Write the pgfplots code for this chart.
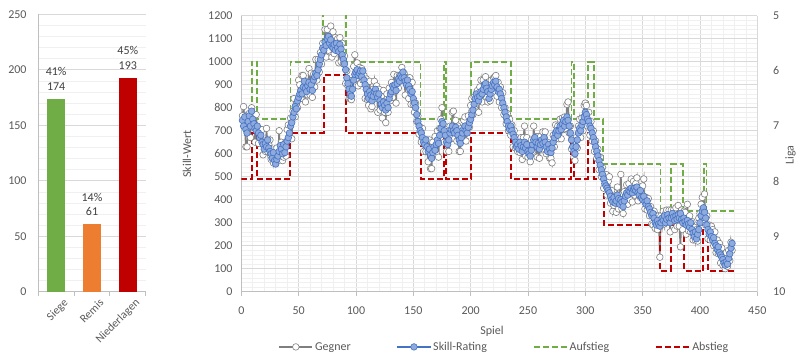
\documentclass[border=0pt]{standalone}
\usepackage{pgfplots}
\pgfplotsset{compat=1.18}
\usepackage{pgfplotstable}
\usepackage{fontspec}
\setmainfont{Carlito}
\definecolor{tickgray}{HTML}{595959}
\definecolor{labgray}{HTML}{404040}
\definecolor{gridmaj}{HTML}{D9D9D9}
\definecolor{gridmin}{HTML}{F0F0F0}
\definecolor{axgray}{HTML}{BFBFBF}
\definecolor{xlgreen}{HTML}{70AD47}
\definecolor{xlorange}{HTML}{ED7D31}
\definecolor{xlred}{HTML}{C00000}
\definecolor{xlblue}{HTML}{4472C4}
\definecolor{xllblue}{HTML}{8FAADC}
\definecolor{xlgray}{HTML}{7F7F7F}

\pgfplotstableread[row sep=\\, col sep=&]{
s & g\\
745 & 765\\ 720 & 805\\ 760 & 720\\ 705 & 630\\ 690 & 630\\ 740 & 770\\ 765 & 775\\ 720 & 670\\ 785 & 800\\ 750 & 730\\
730 & 760\\ 710 & 650\\ 700 & 770\\ 720 & 700\\ 690 & 645\\ 670 & 705\\ 680 & 670\\ 650 & 705\\ 640 & 595\\ 620 & 645\\
645 & 610\\ 630 & 710\\ 660 & 610\\ 625 & 640\\ 610 & 660\\ 600 & 575\\ 580 & 620\\ 605 & 560\\ 570 & 590\\ 555 & 575\\
575 & 625\\ 590 & 570\\ 610 & 700\\ 635 & 595\\ 620 & 650\\ 600 & 570\\ 640 & 585\\ 605 & 645\\ 630 & 590\\ 655 & 705\\
670 & 725\\ 690 & 675\\ 720 & 755\\ 735 & 665\\ 760 & 785\\ 780 & 840\\ 805 & 760\\ 795 & 815\\ 830 & 800\\ 845 & 920\\
860 & 900\\ 875 & 840\\ 860 & 940\\ 890 & 940\\ 915 & 895\\ 885 & 825\\ 870 & 915\\ 895 & 855\\ 910 & 970\\ 880 & 855\\
900 & 950\\ 875 & 845\\ 920 & 945\\ 935 & 890\\ 950 & 1010\\ 940 & 920\\ 965 & 1010\\ 990 & 955\\ 1010 & 1040\\ 1030 & 990\\
1060 & 1080\\ 1050 & 1025\\ 1085 & 1140\\ 1070 & 1020\\ 1100 & 1140\\ 1110 & 1050\\ 1080 & 1115\\ 1095 & 1155\\ 1065 & 1020\\ 1060 & 1130\\
1075 & 1035\\ 1050 & 1105\\ 1080 & 1050\\ 1060 & 1100\\ 1045 & 995\\ 1075 & 1105\\ 1055 & 1000\\ 1030 & 1080\\ 1010 & 990\\ 990 & 1025\\
965 & 905\\ 930 & 960\\ 905 & 895\\ 880 & 840\\ 860 & 840\\ 850 & 835\\ 880 & 920\\ 920 & 980\\ 945 & 1030\\ 955 & 925\\
965 & 995\\ 940 & 895\\ 950 & 975\\ 960 & 905\\ 935 & 970\\ 960 & 920\\ 920 & 940\\ 900 & 840\\ 880 & 925\\ 860 & 835\\
840 & 810\\ 870 & 915\\ 855 & 795\\ 830 & 805\\ 850 & 880\\ 870 & 915\\ 880 & 840\\ 860 & 895\\ 845 & 780\\ 860 & 880\\
830 & 790\\ 815 & 850\\ 800 & 755\\ 825 & 875\\ 810 & 780\\ 790 & 735\\ 820 & 860\\ 800 & 780\\ 840 & 885\\ 860 & 830\\
870 & 910\\ 895 & 845\\ 885 & 945\\ 900 & 870\\ 875 & 820\\ 905 & 940\\ 925 & 885\\ 915 & 940\\ 940 & 920\\ 930 & 975\\
955 & 925\\ 930 & 950\\ 915 & 855\\ 900 & 930\\ 920 & 930\\ 895 & 840\\ 880 & 930\\ 860 & 815\\ 870 & 910\\ 840 & 815\\
820 & 780\\ 800 & 820\\ 770 & 740\\ 740 & 765\\ 720 & 685\\ 700 & 715\\ 690 & 650\\ 670 & 710\\ 650 & 610\\ 640 & 650\\
660 & 610\\ 630 & 660\\ 610 & 565\\ 620 & 660\\ 595 & 535\\ 580 & 535\\ 605 & 650\\ 630 & 600\\ 615 & 675\\ 640 & 600\\
660 & 700\\ 645 & 585\\ 680 & 710\\ 710 & 750\\ 740 & 800\\ 730 & 700\\ 700 & 650\\ 680 & 705\\ 650 & 610\\ 640 & 680\\
660 & 610\\ 690 & 720\\ 705 & 665\\ 720 & 780\\ 700 & 785\\ 690 & 665\\ 715 & 745\\ 700 & 655\\ 680 & 720\\ 660 & 610\\
645 & 610\\ 670 & 710\\ 690 & 660\\ 710 & 745\\ 720 & 760\\ 700 & 655\\ 690 & 720\\ 715 & 765\\ 735 & 715\\ 750 & 810\\
770 & 840\\ 790 & 770\\ 815 & 845\\ 840 & 810\\ 860 & 820\\ 845 & 875\\ 830 & 780\\ 850 & 890\\ 870 & 920\\ 860 & 825\\
880 & 920\\ 900 & 880\\ 905 & 935\\ 885 & 845\\ 870 & 825\\ 840 & 870\\ 860 & 830\\ 880 & 920\\ 895 & 865\\ 910 & 930\\
900 & 935\\ 915 & 940\\ 890 & 850\\ 870 & 910\\ 880 & 825\\ 860 & 890\\ 840 & 800\\ 820 & 865\\ 800 & 770\\ 780 & 800\\
760 & 730\\ 740 & 775\\ 720 & 700\\ 705 & 750\\ 720 & 680\\ 700 & 725\\ 685 & 630\\ 670 & 700\\ 650 & 625\\ 630 & 670\\
640 & 610\\ 620 & 660\\ 650 & 605\\ 635 & 670\\ 610 & 575\\ 630 & 670\\ 650 & 720\\ 625 & 590\\ 640 & 670\\ 610 & 585\\
600 & 640\\ 590 & 565\\ 615 & 660\\ 640 & 610\\ 660 & 720\\ 670 & 635\\ 650 & 675\\ 630 & 585\\ 645 & 675\\ 620 & 580\\
640 & 675\\ 660 & 620\\ 645 & 695\\ 670 & 645\\ 650 & 695\\ 630 & 600\\ 610 & 650\\ 640 & 610\\ 620 & 580\\ 605 & 580\\
625 & 560\\ 650 & 680\\ 670 & 630\\ 690 & 725\\ 700 & 670\\ 680 & 720\\ 700 & 665\\ 720 & 750\\ 705 & 665\\ 730 & 755\\
745 & 705\\ 720 & 760\\ 740 & 710\\ 760 & 815\\ 745 & 825\\ 720 & 690\\ 690 & 720\\ 660 & 620\\ 630 & 665\\ 610 & 585\\
600 & 570\\ 630 & 670\\ 660 & 625\\ 690 & 720\\ 710 & 750\\ 700 & 670\\ 725 & 755\\ 740 & 700\\ 760 & 810\\ 780 & 820\\
770 & 810\\ 750 & 720\\ 740 & 780\\ 720 & 680\\ 710 & 740\\ 690 & 655\\ 670 & 700\\ 650 & 610\\ 630 & 655\\ 610 & 580\\
590 & 620\\ 570 & 530\\ 550 & 585\\ 530 & 500\\ 510 & 540\\ 490 & 450\\ 470 & 505\\ 460 & 510\\ 450 & 420\\ 440 & 480\\
430 & 500\\ 415 & 385\\ 400 & 440\\ 390 & 350\\ 410 & 375\\ 385 & 415\\ 395 & 345\\ 420 & 455\\ 405 & 360\\ 380 & 420\\
400 & 510\\ 390 & 360\\ 370 & 340\\ 395 & 435\\ 415 & 385\\ 430 & 465\\ 420 & 380\\ 440 & 470\\ 435 & 400\\ 450 & 490\\
430 & 390\\ 445 & 480\\ 450 & 420\\ 440 & 470\\ 455 & 495\\ 430 & 395\\ 420 & 450\\ 440 & 410\\ 410 & 445\\ 400 & 460\\
415 & 490\\ 390 & 360\\ 380 & 410\\ 395 & 355\\ 370 & 405\\ 360 & 330\\ 345 & 370\\ 330 & 295\\ 340 & 290\\ 320 & 350\\
300 & 275\\ 290 & 330\\ 310 & 270\\ 295 & 330\\ 285 & 150\\ 300 & 330\\ 320 & 290\\ 310 & 350\\ 330 & 295\\ 300 & 340\\
315 & 355\\ 335 & 305\\ 320 & 355\\ 300 & 260\\ 320 & 355\\ 340 & 305\\ 325 & 355\\ 310 & 270\\ 330 & 365\\ 315 & 285\\
335 & 375\\ 320 & 285\\ 340 & 195\\ 315 & 355\\ 300 & 270\\ 320 & 350\\ 305 & 345\\ 290 & 250\\ 310 & 380\\ 295 & 265\\
280 & 330\\ 300 & 260\\ 270 & 305\\ 255 & 225\\ 240 & 280\\ 260 & 225\\ 230 & 270\\ 250 & 220\\ 270 & 320\\ 300 & 340\\
330 & 380\\ 350 & 410\\ 365 & 325\\ 345 & 425\\ 320 & 290\\ 290 & 330\\ 270 & 230\\ 250 & 290\\ 260 & 225\\ 240 & 285\\
225 & 270\\ 235 & 200\\ 210 & 260\\ 200 & 170\\ 185 & 225\\ 195 & 165\\ 170 & 210\\ 160 & 125\\ 150 & 190\\ 140 & 115\\
125 & 160\\ 115 & 100\\ 130 & 170\\ 120 & 110\\ 145 & 180\\ 165 & 135\\ 190 & 215\\ 210 & 180\\
}\games

\begin{document}
\begin{tikzpicture}[x=1pt,y=1pt]
\useasboundingbox (0,0) rectangle (800,360);
\pgfplotsset{
  every axis/.append style={font=\fontsize{12pt}{14.5pt}\selectfont},
  /pgf/number format/assume math mode=true,
  /pgf/number format/1000 sep={},
}
% ---------- left bar chart ----------
\begin{axis}[
  at={(38.3pt,68.3pt)}, anchor=south west,
  scale only axis, width=107.4pt, height=277.4pt,
  xmin=-0.5, xmax=2.5, ymin=0, ymax=250,
  ytick={0,50,...,250}, minor y tick num=4,
  ymajorgrids, yminorgrids,
  major grid style={gridmaj, line width=0.7pt},
  minor grid style={gridmin, line width=0.6pt},
  axis x line*=bottom, axis y line*=left,
  axis line style={axgray, line width=0.8pt},
  ytick style={draw=none},
  yticklabel style={text=tickgray, anchor=east, inner sep=0pt, xshift=-11.6pt},
  xtick={0,1,2}, xticklabels={Siege,Remis,Niederlagen},
  minor xtick={-0.5,0.5,1.5,2.5},
  xtick style={axgray, line width=0.8pt}, tick align=outside,
  major tick length=0pt, minor tick length=4pt,
  xticklabel style={text=tickgray, font=\fontsize{11.5pt}{13pt}\selectfont, rotate=45, anchor=north east, inner sep=0pt, yshift=-9pt, xshift=0.5pt},
  nodes near coords,
  point meta=explicit symbolic,
  nodes near coords style={align=center, text=labgray, inner sep=0pt, yshift=8pt},
]
\addplot[ybar, bar width=17.7pt, bar shift=0pt, fill=xlgreen, draw=none] coordinates {(0,174) [41\%\\174]};
\addplot[ybar, bar width=17.7pt, bar shift=0pt, fill=xlorange, draw=none] coordinates {(1,61) [14\%\\61]};
\addplot[ybar, bar width=17.7pt, bar shift=0pt, fill=xlred, draw=none] coordinates {(2,193) [45\%\\193]};
\end{axis}

% ---------- right line chart ----------
\begin{axis}[
  at={(241.3pt,68.3pt)}, anchor=south west,
  scale only axis, width=516pt, height=276pt,
  xmin=0, xmax=450, ymin=0, ymax=1200,
  xtick={0,50,...,450}, ytick={0,100,...,1200},
  minor x tick num=4, minor y tick num=4,
  grid=both,
  major grid style={gridmaj, line width=0.7pt},
  minor grid style={gridmin, line width=0.6pt},
  axis x line*=bottom, axis y line*=left,
  axis line style={axgray, line width=0.8pt},
  ytick style={draw=none},
  xtick style={axgray, line width=0.8pt}, tick align=outside, major tick length=4pt, minor tick length=0pt,
  yticklabel style={text=tickgray, anchor=east, inner sep=0pt, xshift=-4.6pt},
  xticklabel style={text=tickgray, anchor=north, inner sep=0pt, yshift=-11pt},
  xlabel={Spiel}, ylabel={Skill-Wert},
  every axis x label/.style={at={(axis description cs:0.486,-0.1424)}, anchor=center, text=tickgray},
  every axis y label/.style={at={(axis description cs:-0.1052,0.499)}, rotate=90, anchor=center, text=tickgray},
  legend columns=4,
  legend style={at={(axis description cs:0.51,-0.2)}, anchor=center, draw=none, fill=none,
     text=tickgray, font=\fontsize{12pt}{14.5pt}\selectfont,
     /tikz/every even column/.append style={column sep=44pt}},
  legend image code/.code={\draw[mark repeat=2,mark phase=2,#1] plot coordinates {(0pt,0pt) (16.5pt,0pt) (33pt,0pt)};},
]
\addplot[xlgray, line width=1.5pt, mark=*, mark size=3.3pt,
   mark options={solid, fill=white, draw=xlgray, line width=0.6pt}]
   table[x expr=\coordindex+1, y=g]{\games};
\addlegendentry{Gegner}
\addplot[xlblue, line width=1.5pt, mark=*, mark size=3.3pt,
   mark options={solid, fill=xllblue, draw=xlblue, line width=0.6pt}]
   table[x expr=\coordindex+1, y=s]{\games};
\addlegendentry{Skill-Rating}
\addplot[xlgreen, line width=1.7pt, dash pattern=on 6pt off 3pt] coordinates {
(0,752) (9.3,752) (9.3,1000) (13.7,1000) (13.7,752) (42.8,752) (42.8,1000) (71.2,1000) (71.2,1250) (91.6,1250) (91.6,1000)
(156.4,1000) (156.4,752) (176.8,752) (176.8,1000) (178.8,1000) (178.8,752) (200.6,752) (200.6,1000) (235.2,1000) (235.2,752)
(287.9,752) (287.9,1000) (290,1000) (290,752) (302.4,752) (302.4,1000) (307.3,1000) (307.3,752) (315.3,752) (315.3,554)
(365.5,554) (365.5,351) (375,351) (375,554) (385.2,554) (385.2,351) (403.5,351) (403.5,554) (405.8,554) (405.8,351) (429.5,351)};
\addlegendentry{Aufstieg}
\addplot[xlred, line width=2pt, dash pattern=on 6pt off 3pt] coordinates {
(0,492) (9.3,492) (9.3,692) (13.7,692) (13.7,492) (42.8,492) (42.8,692) (71.8,692) (71.8,942) (91.6,942) (91.6,692)
(156.4,692) (156.4,492) (176.8,492) (176.8,692) (178.8,692) (178.8,492) (200.6,492) (200.6,692) (235.5,692) (235.5,492)
(287.9,492) (287.9,692) (290,692) (290,492) (302.4,492) (302.4,692) (307.3,692) (307.3,492) (316.3,492) (316.3,292)
(365,292) (365,91) (374.5,91) (374.5,292) (386,292) (386,91) (403,91) (403,292) (406.6,292) (406.6,91) (430.5,91)};
\addlegendentry{Abstieg}
\end{axis}

% ---------- secondary axis (Liga) ----------
\begin{axis}[
  at={(241.3pt,68.3pt)}, anchor=south west,
  scale only axis, width=516pt, height=276pt,
  xmin=0, xmax=450, ymin=5, ymax=10, y dir=reverse,
  hide x axis, axis y line*=right,
  y axis line style={draw=none},
  ytick={5,6,7,8,9,10}, ytick style={draw=none},
  yticklabel style={text=tickgray, anchor=west, inner sep=0pt, xshift=15.7pt},
  ylabel={Liga},
  every axis y label/.style={at={(axis description cs:1.0643,0.495)}, rotate=90, anchor=center, text=tickgray},
]
\addplot[draw=none] coordinates {(0,5) (450,10)};
\end{axis}
\end{tikzpicture}
\end{document}
